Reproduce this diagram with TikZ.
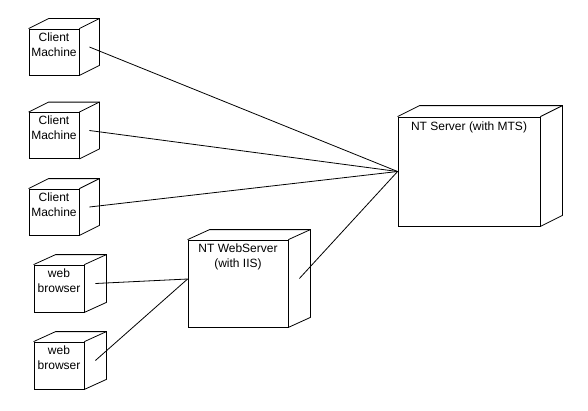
\documentclass[tikz,border=0pt]{standalone}
\usepackage{fontspec}
\setmainfont{Liberation Sans}
\usetikzlibrary{calc}

\tikzset{
  front/.style={draw, rectangle, inner sep=0pt},
  boxtext/.style={font=\fontsize{9}{11.4}\selectfont, align=center, anchor=north, inner sep=0pt},
  link/.style={draw},
}

% top and side faces of a 3D node, plus the middle of its side face
\newcommand{\drawdepth}[3]{%
  \draw (#1.north west) -- ++(#2,-#3) -- ($(#1.north east)+(#2,-#3)$)
        -- ($(#1.south east)+(#2,-#3)$) -- (#1.south east);
  \draw (#1.north east) -- ++(#2,-#3);
  \coordinate (#1s) at ($(#1.east)+(#2/2,-#3/2)$);}

\begin{document}
\begin{tikzpicture}[x=0.75pt, y=-0.75pt, line width=0.6pt]
\useasboundingbox (0,0) rectangle (588,410);

% client machines
\node[front, minimum width=37.5pt, minimum height=34.5pt] (c1) at (54,52) {};
\node[front, minimum width=37.5pt, minimum height=34.5pt] (c2) at (54,135.5) {};
\node[front, minimum width=37.5pt, minimum height=34.5pt] (c3) at (54,212) {};
\foreach \n in {c1,c2,c3} {
  \node[boxtext] at ($(\n.north)+(0,3.5)$) {Client\\Machine};
  \drawdepth{\n}{20}{10}
}

% web browsers
\node[front, minimum width=37.5pt, minimum height=35.25pt] (wb1) at (59,288.5) {};
\node[front, minimum width=37.5pt, minimum height=35.25pt] (wb2) at (59,365.5) {};
\foreach \n in {wb1,wb2} {
  \node[boxtext] at ($(\n.north)+(0,3.5)$) {web\\browser};
  \drawdepth{\n}{22}{10}
}

% servers
\node[front, minimum width=75pt, minimum height=65.25pt] (ws) at (238,283.5) {};
\node[boxtext] at ($(ws.north)+(0,3.5)$) {NT WebServer\\(with IIS)};
\drawdepth{ws}{22}{10}
\coordinate (wsin) at ($(ws.west)+(0,-4.5)$);

\node[front, minimum width=106.5pt, minimum height=81.75pt] (nt) at (469,171.5) {};
\node[boxtext] at ($(nt.north)+(0,4.5)$) {NT Server (with MTS)};
\drawdepth{nt}{22}{11}

% connections
\draw[link] (c1s) -- (nt.west);
\draw[link] (c2s) -- (nt.west);
\draw[link] (c3s) -- (nt.west);
\draw[link] (wss) -- (nt.west);
\draw[link] (wb1s) -- (wsin);
\draw[link] (wb2s) -- (wsin);
\end{tikzpicture}
\end{document}
